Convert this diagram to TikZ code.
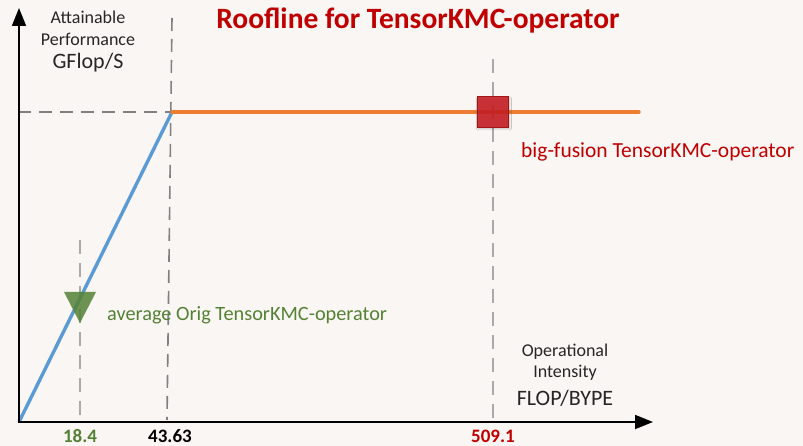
\documentclass[tikz,border=0pt]{standalone}
\usepackage{fontspec}
\setmainfont{Carlito}
\usetikzlibrary{arrows.meta,shadows.blur}

\definecolor{bgcol}{RGB}{250,246,243}
\definecolor{titlered}{RGB}{192,0,0}
\definecolor{roofblue}{RGB}{91,155,213}
\definecolor{rooforange}{RGB}{237,125,49}
\definecolor{markred}{RGB}{200,30,35}
\definecolor{markgreen}{RGB}{84,130,53}
\definecolor{darkgrid}{RGB}{128,128,128}
\definecolor{lightgrid}{RGB}{170,170,170}
\definecolor{labelink}{RGB}{38,38,38}

\tikzset{
  axisline/.style={line width=1.8pt, draw=black, -{Triangle[length=18pt,width=14pt]}},
  guideline/.style={line width=1.6pt, draw=darkgrid, dash pattern=on 13pt off 8pt},
  lightguide/.style={line width=1.6pt, draw=lightgrid, dash pattern=on 14pt off 9pt},
  axislabel/.style={font=\fontsize{18}{20}\selectfont, text=labelink, inner sep=0pt, align=center},
  unitlabel/.style={font=\fontsize{22}{24}\selectfont, text=labelink, inner sep=0pt},
  ticklabel/.style={font=\bfseries\fontsize{19}{21}\selectfont, inner sep=0pt},
  markerlabel/.style={font=\fontsize{20}{22}\selectfont, inner sep=0pt, anchor=west},
}

\begin{document}
\begin{tikzpicture}[x=1pt, y=-1pt]
  % canvas
  \fill[bgcol] (0,0) rectangle (803,446);
  \useasboundingbox (0,0) rectangle (803,446);

  % key points of the roofline
  \coordinate (origin) at (19,422);
  \coordinate (ytop) at (19,8);
  \coordinate (xend) at (653,422);
  \coordinate (ridge) at (172,112);
  \coordinate (roofend) at (639,112);
  \coordinate (yridge) at (18,112);

  % guide lines
  \coordinate (g1top) at (172,18);
  \coordinate (g1bot) at (167,420);
  \coordinate (g2top) at (80,240);
  \coordinate (g2bot) at (80,420);
  \coordinate (g3top) at (493,59);
  \coordinate (g3bot) at (493,420);
  \draw[guideline] (yridge) -- (ridge);
  \draw[guideline] (g1top) -- (g1bot);
  \draw[lightguide] (g2top) -- (g2bot);
  \draw[lightguide] (g3top) -- (g3bot);

  % roofline
  \draw[roofblue, line width=3.4pt] (origin) -- (ridge);
  \draw[rooforange, line width=3.4pt, line cap=round] (ridge) -- (roofend);

  % axes
  \draw[axisline] (origin) -- (ytop);
  \draw[axisline] (18,422) -- (xend);

  % markers
  \node[draw=markred!80!black, fill=markred, fill opacity=0.88, line width=0.8pt,
        minimum width=31pt, minimum height=31pt, inner sep=0pt,
        blur shadow={shadow xshift=1pt, shadow yshift=-2pt, shadow blur steps=5, shadow opacity=25}]
        (bigmark) at (493,111.5) {};
  \fill[markgreen, fill opacity=0.85] (64,292) -- (96,292) -- (80,323) -- cycle;

  % title
  \node[font=\bfseries\fontsize{29.5}{31}\selectfont, text=titlered, inner sep=0pt] (title) at (418,20) {Roofline for TensorKMC-operator};

  % axis labels
  \node[axislabel] (yl1) at (88,17) {Attainable};
  \node[axislabel] (yl2) at (88,39) {Performance};
  \node[unitlabel] (yl3) at (88,63) {GFlop/S};
  \node[axislabel] (xl1) at (565,352) {Operational};
  \node[axislabel] (xl2) at (565,373) {Intensity};
  \node[unitlabel] (xl3) at (565,398) {FLOP/BYPE};

  % marker labels
  \node[markerlabel, font=\fontsize{21.5}{23}\selectfont, text=titlered] (biglabel) at (521,152) {big-fusion TensorKMC-operator};
  \node[markerlabel, font=\fontsize{20.3}{22}\selectfont, text=markgreen] (avglabel) at (107,315) {average Orig TensorKMC-operator};

  % tick values
  \node[ticklabel, text=markgreen] (t1) at (80,436) {18.4};
  \node[ticklabel, text=black] (t2) at (170,436) {43.63};
  \node[ticklabel, text=titlered] (t3) at (493,436) {509.1};
\end{tikzpicture}
\end{document}
